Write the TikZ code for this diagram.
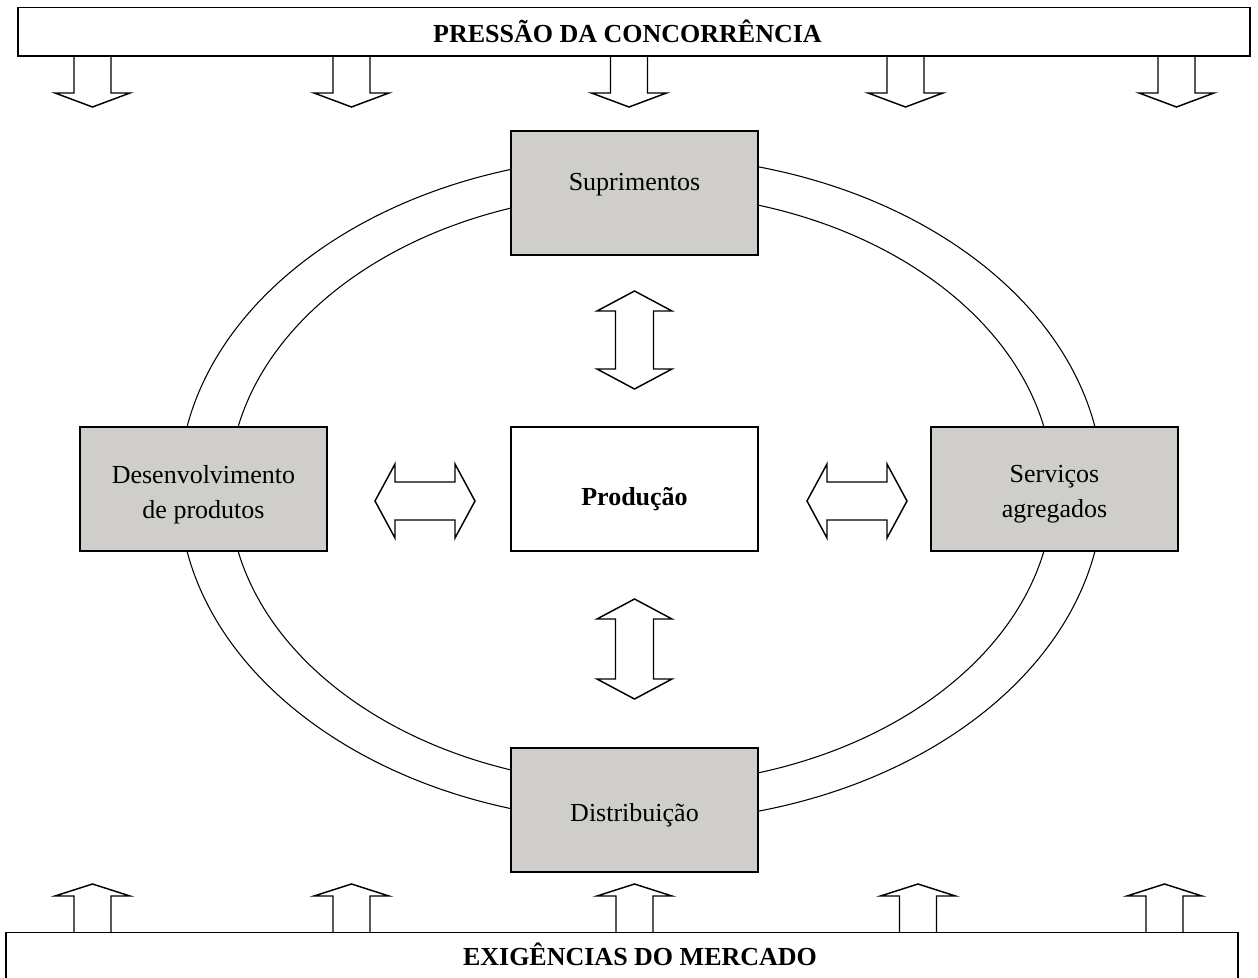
\documentclass[tikz,border=0pt]{standalone}
\usepackage{fontspec}
\setmainfont{Liberation Serif}
\definecolor{cinza}{RGB}{208,206,202}

\tikzset{every picture/.style={line width=1.1pt}}
\tikzset{
  etapa/.style={draw, fill=cinza, minimum width=185.25pt, minimum height=93pt, inner sep=0pt},
  nucleo/.style={draw, fill=white, minimum width=185.25pt, minimum height=93pt, inner sep=0pt},
  barra/.style={draw, fill=white, minimum width=924pt, minimum height=36.4pt, inner sep=0pt},
  texto/.style={align=center, inner sep=0pt},
  seta/.style={draw, line width=1.1pt, line join=miter},
  anel/.style={draw, line width=0.8pt}
}

\begin{document}
\begin{tikzpicture}[x=0.75pt,y=0.75pt,yscale=-1,xscale=1,font=\fontsize{19.5}{26.25}\selectfont]
	\useasboundingbox (0,0) rectangle (1258,978);

	%Shape: Ellipse (outer ring)
	\draw[anel] (641,489) ellipse [x radius=462, y radius=333];
	%Shape: Ellipse (inner ring)
	\draw[anel] (641,489) ellipse [x radius=412, y radius=296];

	% Bars
	\node[barra] (pressao) at (634,31.75) {};
	\node[barra] (exigencias) at (622,957) {};

	% Boxes
	\node[etapa] (suprimentos) at (634.5,193) {};
	\node[etapa] (desenvolvimento) at (203.5,489) {};
	\node[nucleo] (producao) at (634.5,489) {};
	\node[etapa] (servicos) at (1054.5,489) {};
	\node[etapa] (distribuicao) at (634.5,810) {};

	% Text Nodes
	\node[texto] (pressaotxt) at (627.5,31.75) {\bfseries PRESSÃO DA CONCORRÊNCIA};
	\node[texto] (exigenciastxt) at (640,954.5) {\bfseries EXIGÊNCIAS DO MERCADO};
	\node[texto] (suprimentostxt) at (634.5,184.5) {Suprimentos};
	\node[texto] (desenvolvimentotxt) at (203.5,494.5) {Desenvolvimento\\de produtos};
	\node[texto] (producaotxt) at (634.5,499) {\bfseries Produção};
	\node[texto] (servicostxt) at (1054.5,494.5) {Serviços\\agregados};
	\node[texto] (distribuicaotxt) at (634.5,815) {Distribuição};

	%Shape: Down Arrows
	\foreach \cx in {92.5,351.5,629,905.5,1176.5}
		\draw[seta] (\cx-18.5,56) -- (\cx-18.5,93) -- (\cx-37.5,93) -- (\cx,107) -- (\cx+37.5,93) -- (\cx+18.5,93) -- (\cx+18.5,56);
	%Shape: Up Arrows
	\foreach \cx in {92.5,351.5,634.5,918,1164.5}
		\draw[seta] (\cx-18.5,933) -- (\cx-18.5,896) -- (\cx-37.5,896) -- (\cx,884) -- (\cx+37.5,896) -- (\cx+18.5,896) -- (\cx+18.5,933);

	%Shape: Up-Down Arrows
	\foreach \t/\b in {291/389,599/699}
		\draw[seta] (634.5,\t) -- (672,\t+20) -- (653.5,\t+20) -- (653.5,\b-20) -- (672,\b-20) -- (634.5,\b) -- (597,\b-20) -- (615.5,\b-20) -- (615.5,\t+20) -- (597,\t+20) -- cycle;
	%Shape: Left-Right Arrows
	\foreach \l/\r in {375/475,807/907}
		\draw[seta] (\l,501) -- (\l+20,464) -- (\l+20,482) -- (\r-20,482) -- (\r-20,464) -- (\r,501) -- (\r-20,538) -- (\r-20,520) -- (\l+20,520) -- (\l+20,538) -- cycle;

\end{tikzpicture}
\end{document}
